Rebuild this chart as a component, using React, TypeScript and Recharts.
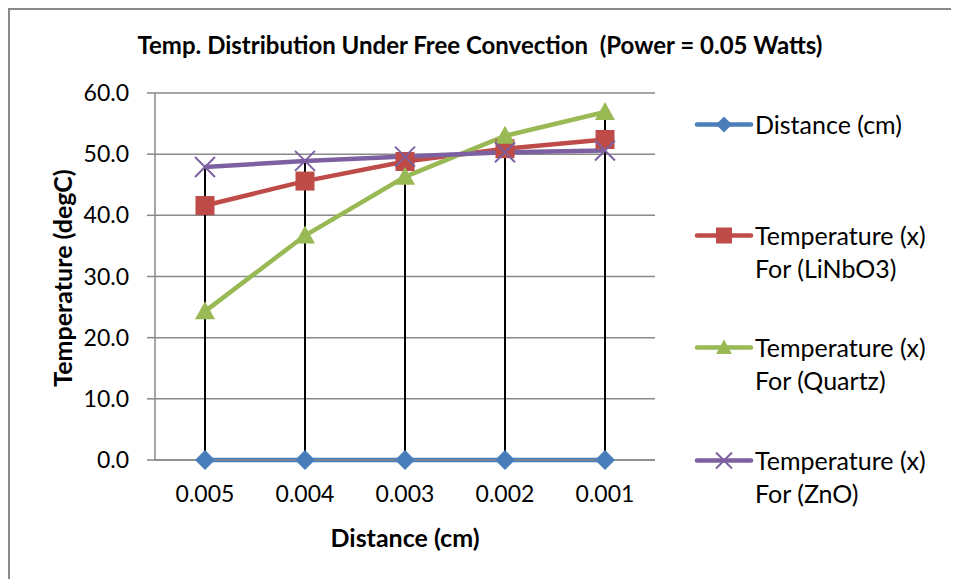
import React from "react";
import { ComposedChart, Line, Bar, XAxis, YAxis, CartesianGrid } from "recharts";

const categories = ["0.005", "0.004", "0.003", "0.002", "0.001"];
const distanceCm = [0.005, 0.004, 0.003, 0.002, 0.001];
const tempLiNbO3 = [41.6, 45.6, 48.8, 50.9, 52.4];
const tempQuartz = [24.3, 36.7, 46.3, 53.0, 56.9];
const tempZnO = [47.9, 48.9, 49.6, 50.3, 50.6];
const yTicks = [0, 10, 20, 30, 40, 50, 60];

const BLUE = "#4a7ebb";
const RED = "#be4b48";
const GREEN = "#98b954";
const PURPLE = "#7d60a0";
const GRID = "#898989";
const FONT = "Lato, 'Open Sans', sans-serif";

const data = categories.map((cat, i) => {
  const vals = [distanceCm[i], tempLiNbO3[i], tempQuartz[i], tempZnO[i]];
  return {
    cat,
    distance: distanceCm[i],
    linbo3: tempLiNbO3[i],
    quartz: tempQuartz[i],
    zno: tempZnO[i],
    hiLo: [Math.min(...vals), Math.max(...vals)],
  };
});

/* ─── Markers ──────────────────────────────────── */

function Diamond({ cx, cy, r = 10, color = BLUE }: any) {
  return (
    <polygon
      points={`${cx},${cy - r} ${cx + r},${cy} ${cx},${cy + r} ${cx - r},${cy}`}
      fill={color}
    />
  );
}

function Square({ cx, cy, s = 19, color = RED }: any) {
  return <rect x={cx - s / 2} y={cy - s / 2} width={s} height={s} fill={color} />;
}

function Triangle({ cx, cy, s = 10, color = GREEN }: any) {
  return (
    <polygon
      points={`${cx},${cy - s} ${cx + s},${cy + s * 0.8} ${cx - s},${cy + s * 0.8}`}
      fill={color}
    />
  );
}

function Cross({ cx, cy, s = 10, color = PURPLE }: any) {
  return (
    <g stroke={color} strokeWidth={2}>
      <line x1={cx - s} y1={cy - s} x2={cx + s} y2={cy + s} />
      <line x1={cx - s} y1={cy + s} x2={cx + s} y2={cy - s} />
    </g>
  );
}

const dot = (Comp: any) => (p: any) =>
  p.cx == null ? null : (
    <g key={`d-${p.index}`}>
      <Comp cx={p.cx} cy={p.cy} />
    </g>
  );

/* ─── Legend ───────────────────────────────────── */

const legendItems = [
  { lines: ["Distance (cm)"], color: BLUE, Mark: Diamond, props: { r: 8 }, top: 124 },
  { lines: ["Temperature (x)", "For (LiNbO3)"], color: RED, Mark: Square, props: { s: 16 }, top: 235 },
  { lines: ["Temperature (x)", "For (Quartz)"], color: GREEN, Mark: Triangle, props: { s: 8 }, top: 347 },
  { lines: ["Temperature (x)", "For (ZnO)"], color: PURPLE, Mark: Cross, props: { s: 8 }, top: 460 },
];

function ChartLegend() {
  return (
    <>
      {legendItems.map((it) => (
        <div
          key={it.lines[1] ?? it.lines[0]}
          style={{
            position: "absolute",
            left: 683,
            top: it.top - 10 - 16,
            display: "flex",
            alignItems: "flex-start",
          }}
        >
          <svg width={62} height={33} style={{ display: "block", flexShrink: 0 }}>
            <line x1={4} y1={16.5} x2={58} y2={16.5} stroke={it.color} strokeWidth={4.5} strokeLinecap="round" />
            <it.Mark cx={31} cy={16.5} color={it.color} {...it.props} />
          </svg>
          <div style={{ fontSize: 25, lineHeight: "33px", color: "#000", whiteSpace: "nowrap" }}>
            {it.lines.map((l) => (
              <div key={l}>{l}</div>
            ))}
          </div>
        </div>
      ))}
    </>
  );
}

export default function App() {
  return (
    <div
      style={{
        position: "relative",
        width: 951,
        height: 571,
        boxSizing: "border-box",
        borderTop: `2px solid ${GRID}`,
        borderLeft: `2px solid ${GRID}`,
        fontFamily: FONT,
        overflow: "hidden",
        background: "#fff",
      }}
    >
      <div
        style={{
          position: "absolute",
          left: 0,
          width: 940,
          top: 20,
          textAlign: "center",
          fontWeight: 700,
          fontSize: 24,
          color: "#000",
        }}
      >
        Temp. Distribution Under Free Convection&nbsp; (Power = 0.05 Watts)
      </div>

      <ComposedChart
        width={949}
        height={569}
        data={data}
        margin={{ top: 83, right: 304, left: 65, bottom: 59 }}
      >
        <CartesianGrid vertical={false} stroke={GRID} strokeWidth={1.5} />
        <XAxis
          dataKey="cat"
          height={60}
          axisLine={{ stroke: GRID, strokeWidth: 1.5 }}
          tickLine={false}
          tickSize={0}
          tickMargin={26}
          tick={{ fill: "#000", fontSize: 23, fontFamily: FONT }}
        />
        <YAxis
          width={80}
          domain={[0, 60]}
          ticks={yTicks}
          interval={0}
          tickFormatter={(v: number) => v.toFixed(1)}
          axisLine={{ stroke: GRID, strokeWidth: 1.5 }}
          tickLine={{ stroke: GRID, strokeWidth: 1.5 }}
          tickSize={8}
          tickMargin={18}
          tick={{ fill: "#000", fontSize: 23, fontFamily: FONT }}
        />
        <Line dataKey="distance" stroke={BLUE} strokeWidth={4.5} dot={dot(Diamond)} activeDot={false} isAnimationActive={false} />
        <Line dataKey="linbo3" stroke={RED} strokeWidth={4.5} dot={dot(Square)} activeDot={false} isAnimationActive={false} />
        <Line dataKey="quartz" stroke={GREEN} strokeWidth={4.5} dot={dot(Triangle)} activeDot={false} isAnimationActive={false} />
        <Line dataKey="zno" stroke={PURPLE} strokeWidth={4.5} dot={dot(Cross)} activeDot={false} isAnimationActive={false} />
        <Bar dataKey="hiLo" fill="#000" barSize={2} isAnimationActive={false} />
      </ComposedChart>

      <div
        style={{
          position: "absolute",
          left: 52,
          top: 268,
          transform: "translate(-50%, -50%) rotate(-90deg)",
          fontWeight: 700,
          fontSize: 25,
          whiteSpace: "nowrap",
          color: "#000",
        }}
      >
        Temperature (degC)
      </div>
      <div
        style={{
          position: "absolute",
          left: 395,
          top: 527,
          transform: "translate(-50%, -50%)",
          fontWeight: 700,
          fontSize: 25,
          whiteSpace: "nowrap",
          color: "#000",
        }}
      >
        Distance (cm)
      </div>

      <ChartLegend />
    </div>
  );
}
